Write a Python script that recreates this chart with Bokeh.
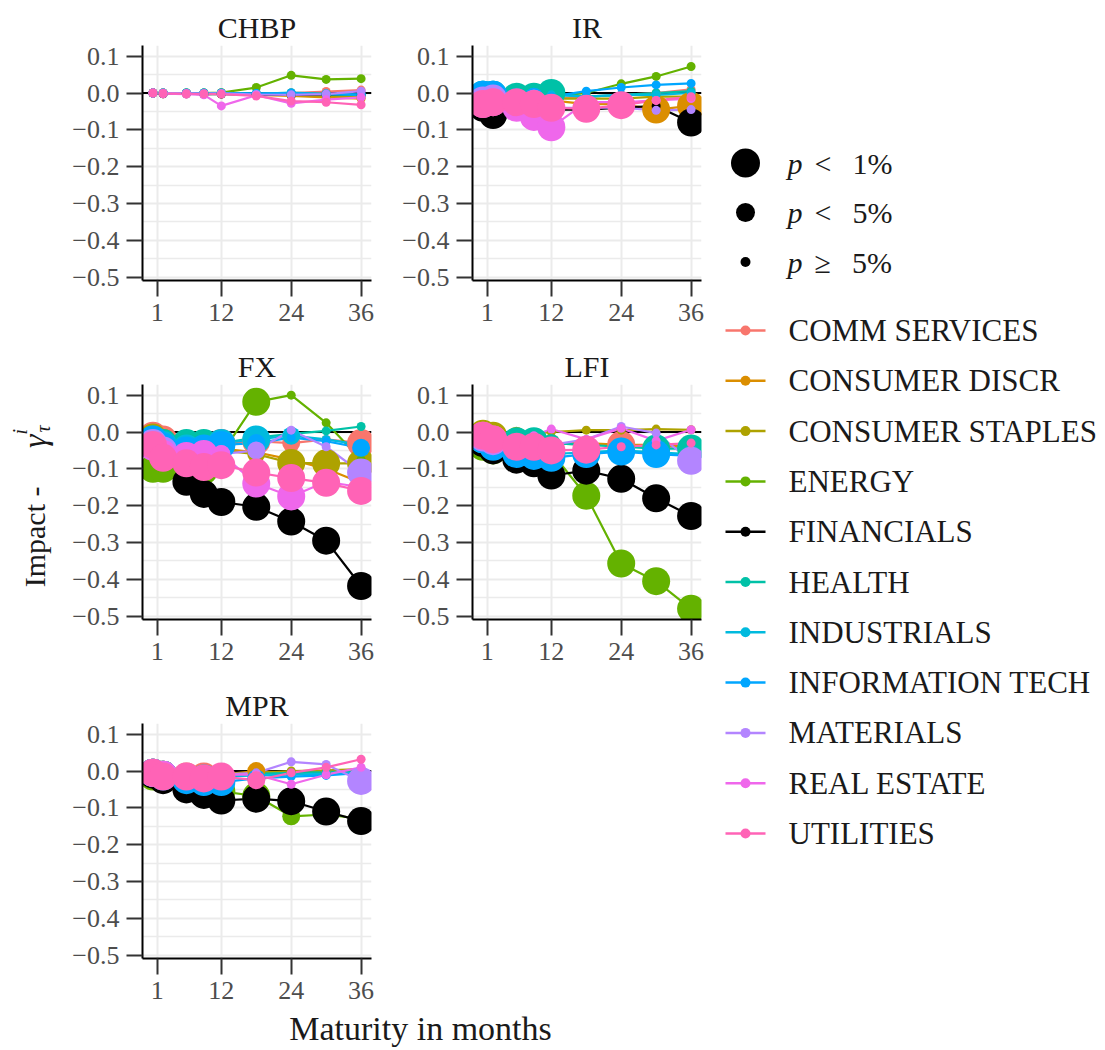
import math
from bokeh.plotting import figure
from bokeh.models import Range1d, FixedTicker, CustomJSTickFormatter, Span, Spacer, ColumnDataSource
from bokeh.layouts import row, column
from bokeh.embed import file_html
from bokeh.resources import INLINE
from bokeh.core.properties import value

# ------------------------------------------------------------------ data
MATURITIES = [0.25, 2, 6, 9, 12, 18, 24, 30, 36]
SECTORS = ["COMM SERVICES", "CONSUMER DISCR", "CONSUMER STAPLES", "ENERGY",
           "FINANCIALS", "HEALTH", "INDUSTRIALS", "INFORMATION TECH",
           "MATERIALS", "REAL ESTATE", "UTILITIES"]
PANEL_NAMES = ["CHBP", "IR", "FX", "LFI", "MPR"]
X_TICKS = [1, 12, 24, 36]
Y_TICKS = [-0.5, -0.4, -0.3, -0.2, -0.1, 0.0, 0.1]
Y_MINOR = [-0.45, -0.35, -0.25, -0.15, -0.05, 0.05]
SIG_CODES = [2, 1, 0]                      # 2: p<1%, 1: p<5%, 0: p>=5%
SIG_TEXT = ["<\u2002\u20091%", "<\u2002\u20095%", "\u2265\u2002\u20095%"]
X_TITLE = "Maturity in months"
Y_TITLE_MAIN = "Impact -"

CHBP_VALUES = {
    "COMM SERVICES":    [0, 0, 0, 0, 0, -0.003, 0.0, 0.004, 0.008],
    "CONSUMER DISCR":   [0, -0.002, -0.002, -0.003, -0.002, -0.005, -0.008, -0.012, -0.015],
    "CONSUMER STAPLES": [0, 0, -0.001, -0.002, -0.002, -0.004, -0.005, -0.008, -0.01],
    "ENERGY":           [0, 0, 0, 0, 0.001, 0.015, 0.048, 0.037, 0.039],
    "FINANCIALS":       [0, -0.002, -0.002, -0.003, -0.003, -0.004, -0.005, -0.004, -0.004],
    "HEALTH":           [0, 0, 0, 0, 0, -0.002, 0.001, -0.002, -0.004],
    "INDUSTRIALS":      [0, -0.001, -0.001, -0.002, -0.001, -0.003, -0.002, -0.003, -0.005],
    "INFORMATION TECH": [0, 0, 0, 0, 0, -0.001, 0.0, -0.003, -0.004],
    "MATERIALS":        [0, 0, -0.001, -0.002, -0.001, -0.004, -0.005, -0.003, 0.005],
    "REAL ESTATE":      [0, -0.002, -0.003, -0.005, -0.035, -0.006, -0.028, -0.018, -0.012],
    "UTILITIES":        [0, -0.001, -0.002, -0.002, -0.003, -0.008, -0.022, -0.025, -0.032],
}
CHBP_SIG = {s: [0, 0, 0, 0, 0, 0, 0, 0, 0] for s in SECTORS}

IR_VALUES = {
    "COMM SERVICES":    [-0.01, -0.01, -0.02, -0.015, -0.015, -0.01, -0.005, 0.0, 0.01],
    "CONSUMER DISCR":   [-0.01, -0.015, -0.015, -0.02, -0.02, -0.03, -0.03, -0.045, -0.035],
    "CONSUMER STAPLES": [-0.01, -0.01, -0.01, -0.01, -0.015, -0.015, -0.015, -0.01, -0.01],
    "ENERGY":           [-0.02, -0.015, -0.015, -0.012, -0.01, 0.0, 0.025, 0.045, 0.072],
    "FINANCIALS":       [-0.04, -0.06, -0.035, -0.025, -0.045, -0.045, -0.04, -0.035, -0.08],
    "HEALTH":           [-0.005, -0.005, -0.01, -0.01, 0.0, -0.01, -0.005, 0.0, 0.005],
    "INDUSTRIALS":      [-0.005, -0.005, -0.01, -0.01, -0.005, -0.01, -0.005, -0.005, 0.0],
    "INFORMATION TECH": [-0.005, -0.005, -0.015, -0.01, -0.01, 0.005, 0.015, 0.022, 0.026],
    "MATERIALS":        [-0.02, -0.015, -0.02, -0.015, -0.04, -0.04, -0.04, -0.047, -0.045],
    "REAL ESTATE":      [-0.03, -0.025, -0.04, -0.065, -0.093, -0.025, -0.025, -0.02, -0.015],
    "UTILITIES":        [-0.03, -0.025, -0.025, -0.03, -0.04, -0.043, -0.033, -0.02, -0.01],
}
IR_SIG = {
    "COMM SERVICES":    [2, 2, 2, 1, 1, 0, 0, 0, 0],
    "CONSUMER DISCR":   [1, 1, 0, 0, 0, 0, 0, 2, 2],
    "CONSUMER STAPLES": [1, 1, 0, 0, 0, 0, 0, 0, 0],
    "ENERGY":           [1, 0, 0, 0, 0, 0, 0, 0, 0],
    "FINANCIALS":       [2, 2, 0, 0, 0, 0, 0, 0, 2],
    "HEALTH":           [2, 2, 2, 2, 2, 0, 0, 0, 0],
    "INDUSTRIALS":      [2, 2, 1, 1, 0, 0, 0, 0, 0],
    "INFORMATION TECH": [2, 2, 1, 1, 0, 0, 0, 0, 0],
    "MATERIALS":        [2, 2, 1, 1, 0, 0, 0, 0, 0],
    "REAL ESTATE":      [2, 2, 2, 2, 2, 0, 0, 0, 0],
    "UTILITIES":        [2, 2, 2, 2, 2, 2, 2, 0, 0],
}

FX_VALUES = {
    "COMM SERVICES":    [-0.01, -0.02, -0.04, -0.035, -0.03, -0.025, -0.03, -0.02, -0.03],
    "CONSUMER DISCR":   [-0.02, -0.03, -0.05, -0.05, -0.045, -0.055, -0.075, -0.1, -0.138],
    "CONSUMER STAPLES": [-0.015, -0.03, -0.05, -0.05, -0.05, -0.06, -0.084, -0.085, -0.085],
    "ENERGY":           [-0.1, -0.1, -0.1, -0.105, -0.06, 0.082, 0.1, 0.025, -0.075],
    "FINANCIALS":       [-0.045, -0.08, -0.135, -0.168, -0.19, -0.203, -0.243, -0.295, -0.418],
    "HEALTH":           [-0.02, -0.03, -0.03, -0.03, -0.03, -0.015, -0.005, 0.003, 0.015],
    "INDUSTRIALS":      [-0.025, -0.035, -0.045, -0.04, -0.03, -0.02, -0.01, -0.02, -0.035],
    "INFORMATION TECH": [-0.02, -0.04, -0.05, -0.045, -0.035, -0.03, -0.015, -0.025, -0.043],
    "MATERIALS":        [-0.03, -0.05, -0.07, -0.065, -0.06, -0.05, 0.005, -0.04, -0.11],
    "REAL ESTATE":      [-0.04, -0.06, -0.065, -0.06, -0.06, -0.14, -0.175, -0.135, -0.15],
    "UTILITIES":        [-0.035, -0.07, -0.085, -0.095, -0.09, -0.11, -0.125, -0.138, -0.16],
}
FX_SIG = {
    "COMM SERVICES":    [2, 2, 2, 2, 2, 2, 1, 0, 2],
    "CONSUMER DISCR":   [2, 2, 1, 1, 1, 0, 0, 0, 1],
    "CONSUMER STAPLES": [2, 2, 2, 1, 1, 1, 2, 2, 2],
    "ENERGY":           [2, 2, 2, 2, 0, 2, 0, 0, 0],
    "FINANCIALS":       [0, 1, 2, 2, 2, 2, 2, 2, 2],
    "HEALTH":           [2, 2, 2, 2, 1, 0, 0, 0, 0],
    "INDUSTRIALS":      [2, 2, 2, 1, 2, 2, 1, 0, 0],
    "INFORMATION TECH": [2, 2, 2, 2, 2, 1, 0, 0, 1],
    "MATERIALS":        [2, 2, 1, 1, 1, 1, 0, 0, 2],
    "REAL ESTATE":      [2, 2, 2, 2, 1, 2, 2, 1, 1],
    "UTILITIES":        [2, 2, 2, 2, 2, 2, 2, 2, 2],
}

LFI_VALUES = {
    "COMM SERVICES":    [-0.01, -0.02, -0.03, -0.03, -0.03, -0.035, -0.035, -0.04, -0.04],
    "CONSUMER DISCR":   [-0.01, -0.02, -0.025, -0.03, -0.03, -0.03, -0.035, -0.035, -0.04],
    "CONSUMER STAPLES": [-0.005, -0.01, -0.01, -0.005, 0.0, 0.005, 0.005, 0.008, 0.006],
    "ENERGY":           [-0.04, -0.05, -0.04, -0.045, -0.055, -0.173, -0.357, -0.405, -0.48],
    "FINANCIALS":       [-0.03, -0.05, -0.075, -0.085, -0.118, -0.105, -0.127, -0.18, -0.228],
    "HEALTH":           [-0.02, -0.03, -0.025, -0.025, -0.03, -0.035, -0.04, -0.045, -0.045],
    "INDUSTRIALS":      [-0.02, -0.035, -0.045, -0.05, -0.06, -0.055, -0.05, -0.055, -0.06],
    "INFORMATION TECH": [-0.02, -0.04, -0.06, -0.065, -0.07, -0.06, -0.053, -0.06, -0.065],
    "MATERIALS":        [-0.015, -0.025, -0.03, -0.03, -0.035, -0.02, 0.015, -0.003, -0.078],
    "REAL ESTATE":      [-0.01, -0.02, -0.015, -0.01, 0.008, -0.02, 0.01, -0.024, 0.006],
    "UTILITIES":        [-0.01, -0.02, -0.04, -0.04, -0.05, -0.048, -0.04, -0.035, -0.03],
}
LFI_SIG = {
    "COMM SERVICES":    [2, 2, 1, 1, 1, 0, 2, 0, 0],
    "CONSUMER DISCR":   [2, 2, 1, 0, 0, 0, 0, 0, 0],
    "CONSUMER STAPLES": [2, 2, 1, 0, 0, 0, 0, 0, 0],
    "ENERGY":           [2, 2, 1, 0, 0, 2, 2, 2, 2],
    "FINANCIALS":       [2, 2, 2, 2, 2, 2, 2, 2, 2],
    "HEALTH":           [2, 2, 2, 2, 1, 1, 1, 2, 2],
    "INDUSTRIALS":      [2, 2, 2, 2, 2, 1, 1, 1, 1],
    "INFORMATION TECH": [2, 2, 2, 2, 2, 2, 2, 2, 1],
    "MATERIALS":        [2, 2, 1, 0, 0, 0, 0, 0, 2],
    "REAL ESTATE":      [2, 2, 0, 0, 0, 0, 0, 0, 0],
    "UTILITIES":        [2, 2, 2, 2, 2, 2, 0, 0, 0],
}

MPR_VALUES = {
    "COMM SERVICES":    [-0.005, -0.01, -0.015, -0.015, -0.015, -0.01, -0.005, -0.002, 0.0],
    "CONSUMER DISCR":   [-0.005, -0.01, -0.01, -0.01, -0.01, 0.0, -0.005, -0.002, 0.0],
    "CONSUMER STAPLES": [-0.005, -0.01, -0.01, -0.01, -0.008, -0.005, 0.0, 0.002, 0.005],
    "ENERGY":           [-0.015, -0.02, -0.04, -0.045, -0.055, -0.068, -0.123, -0.118, -0.13],
    "FINANCIALS":       [-0.01, -0.025, -0.05, -0.065, -0.08, -0.075, -0.082, -0.11, -0.136],
    "HEALTH":           [-0.005, -0.01, -0.015, -0.015, -0.01, -0.008, -0.005, -0.003, 0.0],
    "INDUSTRIALS":      [-0.005, -0.01, -0.02, -0.02, -0.015, -0.012, -0.01, -0.008, -0.005],
    "INFORMATION TECH": [-0.005, -0.015, -0.025, -0.03, -0.03, -0.02, -0.015, -0.012, -0.005],
    "MATERIALS":        [-0.005, -0.01, -0.01, -0.01, -0.01, -0.005, 0.025, 0.018, -0.027],
    "REAL ESTATE":      [-0.005, -0.01, -0.01, -0.01, -0.01, -0.01, -0.036, -0.01, 0.01],
    "UTILITIES":        [-0.005, -0.015, -0.015, -0.02, -0.015, -0.025, -0.005, 0.01, 0.032],
}
MPR_SIG = {
    "COMM SERVICES":    [2, 2, 2, 2, 1, 0, 0, 0, 0],
    "CONSUMER DISCR":   [2, 2, 1, 1, 0, 1, 0, 0, 0],
    "CONSUMER STAPLES": [2, 2, 1, 0, 0, 0, 0, 0, 0],
    "ENERGY":           [2, 2, 2, 2, 2, 2, 1, 1, 0],
    "FINANCIALS":       [2, 2, 2, 2, 2, 2, 2, 2, 2],
    "HEALTH":           [2, 2, 1, 1, 0, 0, 0, 0, 0],
    "INDUSTRIALS":      [2, 2, 1, 2, 1, 0, 0, 0, 0],
    "INFORMATION TECH": [2, 2, 2, 2, 2, 1, 0, 0, 0],
    "MATERIALS":        [2, 2, 1, 0, 0, 0, 0, 0, 2],
    "REAL ESTATE":      [2, 2, 1, 1, 0, 0, 0, 0, 0],
    "UTILITIES":        [2, 2, 2, 2, 2, 1, 0, 0, 0],
}

PANEL_VALUES = [CHBP_VALUES, IR_VALUES, FX_VALUES, LFI_VALUES, MPR_VALUES]
PANEL_SIG = [CHBP_SIG, IR_SIG, FX_SIG, LFI_SIG, MPR_SIG]

# ------------------------------------------------------------------ styles
COLORS = {
    "COMM SERVICES": "#F8766D", "CONSUMER DISCR": "#DB8E00",
    "CONSUMER STAPLES": "#AEA200", "ENERGY": "#64B200", "FINANCIALS": "#000000",
    "HEALTH": "#00C1A7", "INDUSTRIALS": "#00BADE", "INFORMATION TECH": "#00A6FF",
    "MATERIALS": "#B385FF", "REAL ESTATE": "#EF67EB", "UTILITIES": "#FF63B6",
}
SIG_SIZE = {2: 28, 1: 18, 0: 9}
FONT = "Liberation Serif"
TEXT_DARK = "#1A1A1A"
GRID = "#EBEBEB"

FW, FH = 229, 235
TOP_FIRST = 45
TOP_B = 40
ROW_BOTTOM = 64
LAST_BOTTOM = 53
LEFT_COL = (84, 10)
RIGHT_COL = (91, 12)
YLAB_W = 58
XLAB_H = 38
TOTAL_H = (TOP_FIRST + FH + ROW_BOTTOM) + (TOP_B + FH + ROW_BOTTOM) + (TOP_B + FH + LAST_BOTTOM) + XLAB_H
LEG_W = 392

# ranges with ggplot-like 5% expansion
xmin, xmax = min(MATURITIES), max(MATURITIES)
all_vals = [v for pv in PANEL_VALUES for s in SECTORS for v in pv[s]]
ymin, ymax = min(all_vals), max(all_vals)
XPAD = 0.05 * (xmax - xmin)
YPAD = 0.05 * (ymax - ymin)


def make_panel(name, vals, sig, borders, top, bottom):
    p = figure(frame_width=FW, frame_height=FH,
               x_range=Range1d(xmin - XPAD, xmax + XPAD),
               y_range=Range1d(ymin - YPAD, ymax + YPAD),
               output_backend="svg", toolbar_location=None,
               min_border_left=borders[0], min_border_right=borders[1],
               min_border_top=top, min_border_bottom=bottom,
               background_fill_color="white", border_fill_color="white")
    p.outline_line_color = None
    p.title.text = name
    p.title.align = "center"
    p.title.text_font = FONT
    p.title.text_font_size = "30px"
    p.title.text_font_style = "normal"
    p.title.text_color = TEXT_DARK
    p.title.standoff = 3

    p.xaxis.ticker = FixedTicker(ticks=X_TICKS)
    p.xaxis.formatter = CustomJSTickFormatter(code="return tick.toFixed(0);")
    p.yaxis.ticker = FixedTicker(ticks=Y_TICKS, minor_ticks=Y_MINOR)
    p.yaxis.formatter = CustomJSTickFormatter(
        code="if (Math.abs(tick) < 1e-9) { return '0.0'; } "
             "return (tick < 0 ? '\u2212' : '') + Math.abs(tick).toFixed(1);")
    for ax in (p.xaxis[0], p.yaxis[0]):
        ax.axis_line_color = "black"
        ax.axis_line_width = 2
        ax.major_tick_line_color = "#333333"
        ax.major_tick_line_width = 2
        ax.major_tick_out = 16
        ax.major_tick_in = 0
        ax.minor_tick_line_color = None
        ax.major_label_text_font = FONT
        ax.major_label_text_font_size = "26px"
        ax.major_label_text_color = "#4D4D4D"
        ax.major_label_standoff = 7
    p.xgrid.grid_line_color = GRID
    p.xgrid.grid_line_width = 2
    p.ygrid.grid_line_color = GRID
    p.ygrid.grid_line_width = 2
    p.ygrid.minor_grid_line_color = GRID
    p.ygrid.minor_grid_line_width = 1.4

    p.add_layout(Span(location=0, dimension="width", line_color="black",
                      line_width=2, level="underlay"))

    for s in SECTORS:
        p.line(MATURITIES, vals[s], line_color=COLORS[s], line_width=2.2)

    xs, ys, sz, cl = [], [], [], []
    for s in SECTORS:
        for m, v, g in zip(MATURITIES, vals[s], sig[s]):
            xs.append(m)
            ys.append(v)
            sz.append(SIG_SIZE[g])
            cl.append(COLORS[s])
    src = ColumnDataSource(dict(x=xs, y=ys, size=sz, color=cl))
    p.scatter("x", "y", size="size", fill_color="color", line_color=None, source=src)
    return p


panels = []
for i, name in enumerate(PANEL_NAMES):
    col = LEFT_COL if i % 2 == 0 else RIGHT_COL
    top = TOP_FIRST if i < 2 else TOP_B
    bottom = LAST_BOTTOM if i == 4 else ROW_BOTTOM
    panels.append(make_panel(name, PANEL_VALUES[i], PANEL_SIG[i], col, top, bottom))

left_w = LEFT_COL[0] + FW + LEFT_COL[1]
right_w = RIGHT_COL[0] + FW + RIGHT_COL[1]


def blank(w, h):
    f = figure(frame_width=w, frame_height=h, x_range=Range1d(0, w), y_range=Range1d(0, h),
               x_axis_type=None, y_axis_type=None, output_backend="svg",
               toolbar_location=None, min_border=0,
               background_fill_color="white", border_fill_color="white")
    f.outline_line_color = None
    f.grid.visible = False
    return f


# x axis title
xlab = blank(left_w + right_w, XLAB_H)
xlab.text(x=[420 - YLAB_W], y=[21], text=[X_TITLE], text_font=value(FONT),
          text_font_size="34px", text_align="center", text_baseline="middle",
          text_color=TEXT_DARK)

# y axis title (rotated); page coordinates converted to this canvas
ylab = blank(YLAB_W, TOTAL_H)
def yc(page_y):
    return TOTAL_H - page_y
ylab.text(x=[34], y=[yc(486)], text=[Y_TITLE_MAIN], angle=math.pi / 2,
          text_font=value(FONT), text_font_size="30px", text_align="right",
          text_baseline="alphabetic", text_color=TEXT_DARK)
ylab.text(x=[34], y=[yc(434)], text=["\u03b3"], angle=math.pi / 2,
          text_font=value(FONT), text_font_size="34px", text_font_style="italic",
          text_align="right", text_baseline="alphabetic", text_color=TEXT_DARK)
ylab.text(x=[19], y=[yc(434)], text=["i"], angle=math.pi / 2,
          text_font=value(FONT), text_font_size="20px", text_font_style="italic",
          text_align="left", text_baseline="alphabetic", text_color=TEXT_DARK)
ylab.text(x=[42], y=[yc(432)], text=["\u03c4"], angle=math.pi / 2,
          text_font=value(FONT), text_font_size="20px", text_font_style="italic",
          text_align="left", text_baseline="alphabetic", text_color=TEXT_DARK)

# legend
leg = blank(LEG_W, TOTAL_H)
leg_x0 = YLAB_W + left_w + right_w
def lx(page_x):
    return page_x - leg_x0

size_y = [yc(162.5 + 49.5 * i) for i in range(len(SIG_CODES))]
leg.scatter(x=[lx(745)] * len(SIG_CODES), y=size_y,
            size=[SIG_SIZE[c] + 1 for c in SIG_CODES], fill_color="black", line_color=None)
leg.text(x=[lx(787)] * len(SIG_CODES), y=size_y, text=["p"] * len(SIG_CODES),
         text_font=value(FONT), text_font_size="30px", text_font_style="italic",
         text_baseline="middle", text_color=TEXT_DARK)
leg.text(x=[lx(814)] * len(SIG_CODES), y=size_y, text=SIG_TEXT,
         text_font=value(FONT), text_font_size="30px",
         text_baseline="middle", text_color=TEXT_DARK)

col_y = [yc(330 + 50.3 * i) for i in range(len(SECTORS))]
leg.segment(x0=[lx(725)] * len(SECTORS), y0=col_y, x1=[lx(765)] * len(SECTORS), y1=col_y,
            line_color=[COLORS[s] for s in SECTORS], line_width=2.5)
leg.scatter(x=[lx(745)] * len(SECTORS), y=col_y, size=10,
            fill_color=[COLORS[s] for s in SECTORS], line_color=None)
leg.text(x=[lx(788)] * len(SECTORS), y=col_y, text=SECTORS,
         text_font=value(FONT), text_font_size="31px",
         text_baseline="middle", text_color=TEXT_DARK)

spacer = Spacer(width=right_w, height=TOP_B + FH + LAST_BOTTOM)
grid = column(row(panels[0], panels[1]), row(panels[2], panels[3]),
              row(panels[4], spacer), xlab)
layout = row(ylab, grid, leg)

open("out.html", "w", encoding="utf-8").write(file_html(layout, INLINE, title="Impact by maturity"))
